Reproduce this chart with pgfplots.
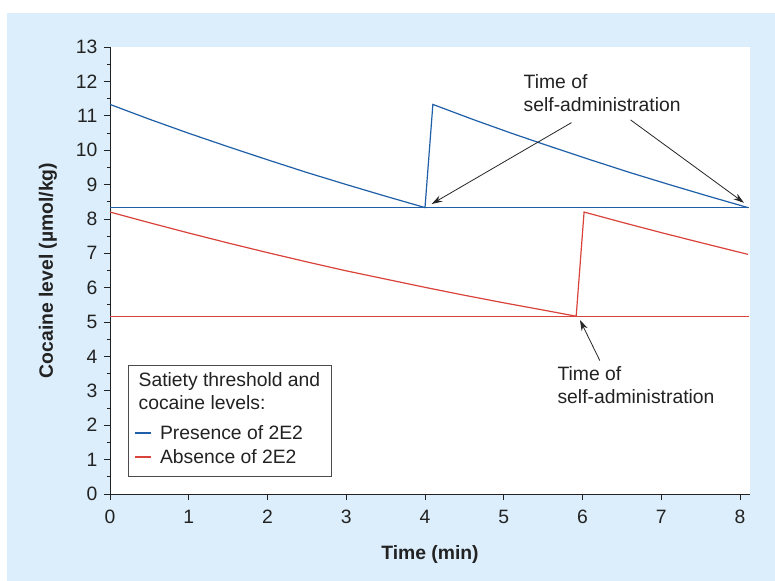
\documentclass[border=0pt]{standalone}
\usepackage{fontspec}
\setmainfont{Liberation Sans}
\usepackage{pgfplots}
\usepackage{pgfplotstable}
\pgfplotsset{compat=1.18}
\usetikzlibrary{arrows.meta}
\definecolor{bgblue}{HTML}{DCEEFB}
\definecolor{lblue}{HTML}{1F5FA8}
\definecolor{lred}{HTML}{D9433B}
\definecolor{txt}{HTML}{222222}
\newcommand\fs{\fontsize{14.5}{17.5}\selectfont}

\pgfplotstableread{
t c
0 11.33
0.5 10.90
1 10.49
1.5 10.10
2 9.72
2.5 9.35
3 9.00
3.5 8.66
4 8.33
4.1 11.33
4.6 10.90
5.1 10.49
5.6 10.10
6.1 9.72
6.6 9.35
7.1 9.00
7.6 8.66
8.1 8.33
}\bluedata

\pgfplotstableread{
t c
0 8.20
0.5 7.89
1 7.59
1.5 7.30
2 7.02
2.5 6.75
3 6.49
3.5 6.25
4 6.01
4.5 5.78
5 5.56
5.5 5.35
5.92 5.17
6.02 8.20
6.52 7.89
7.02 7.59
7.52 7.30
8.1 6.97
}\reddata

\begin{document}
\begin{tikzpicture}
\fill[white] (-82.5pt,-65.25pt) rectangle (498.75pt,370.5pt);
\fill[bgblue] (-77.25pt,-65.25pt) rectangle (498.75pt,360.75pt);
\begin{axis}[
  at={(0,0)}, anchor=south west,
  scale only axis, width=480pt, height=335.25pt,
  xmin=0, xmax=8.127, ymin=0, ymax=13,
  axis background/.style={fill=white},
  axis x line=bottom, axis y line=left,
  axis line style={-, draw=txt, line width=0.6pt},
  tick align=outside,
  major tick length=4.5pt, minor tick length=2.5pt,
  every tick/.style={draw=txt, line width=0.6pt},
  xtick={0,1,...,8}, ytick={0,1,...,13},
  minor y tick num=1,
  /pgf/number format/assume math mode=true,
  tick label style={font=\fs, text=txt},
  xticklabel style={yshift=-4pt},
  yticklabel style={xshift=-1.5pt},
  xlabel={\textbf{Time (min)}},
  ylabel={\textbf{Cocaine level (µmol/kg)}},
  label style={font=\fs, text=txt},
  xlabel style={at={(axis description cs:0.5,-0.135)}, anchor=center},
  ylabel style={at={(axis description cs:-0.097,0.5)}, anchor=center, rotate=0},
  legend cell align=left,
  legend style={draw=none, fill=none, at={(axis cs:0.30,2.08)}, anchor=north west,
    font=\fs, text=txt, row sep=2pt, column sep=4pt, inner sep=0pt},
  legend image code/.code={\draw[#1, line width=1.6pt] (0pt,0pt) -- (12pt,0pt);},
]
\addplot[lblue, line width=0.9pt] table[x=t, y=c] {\bluedata};
\addlegendentry{Presence of 2E2}
\addplot[lred, line width=0.9pt] table[x=t, y=c] {\reddata};
\addlegendentry{Absence of 2E2}
\addplot[lblue, line width=1.1pt, forget plot] coordinates {(0,8.33) (8.12,8.33)};
\addplot[lred, line width=1pt, forget plot] coordinates {(0,5.17) (8.12,5.17)};

\draw[draw=black!70, line width=0.6pt] (axis cs:0.24,0.52) rectangle (axis cs:2.81,3.75);
\node[anchor=north west, align=left, font=\fs, text=txt, inner sep=0pt] at (axis cs:0.36,3.55) {Satiety threshold and\\cocaine levels:};

\node[anchor=west, align=left, font=\fs, text=txt, inner sep=0pt] at (axis cs:5.25,11.65) {Time of\\self-administration};
\node[anchor=west, align=left, font=\fs, text=txt, inner sep=0pt] at (axis cs:5.68,3.17) {Time of\\self-administration};

\draw[-{Stealth[length=8pt,width=5pt]}, line width=0.6pt, black!85] (axis cs:5.86,10.80) -- (axis cs:4.085,8.434);
\draw[-{Stealth[length=8pt,width=5pt]}, line width=0.6pt, black!85] (axis cs:6.61,10.88) -- (axis cs:8.05,8.47);
\draw[-{Stealth[length=8pt,width=5pt]}, line width=0.6pt, black!85] (axis cs:6.22,3.88) -- (axis cs:5.968,5.06);
\end{axis}
\end{tikzpicture}
\end{document}
